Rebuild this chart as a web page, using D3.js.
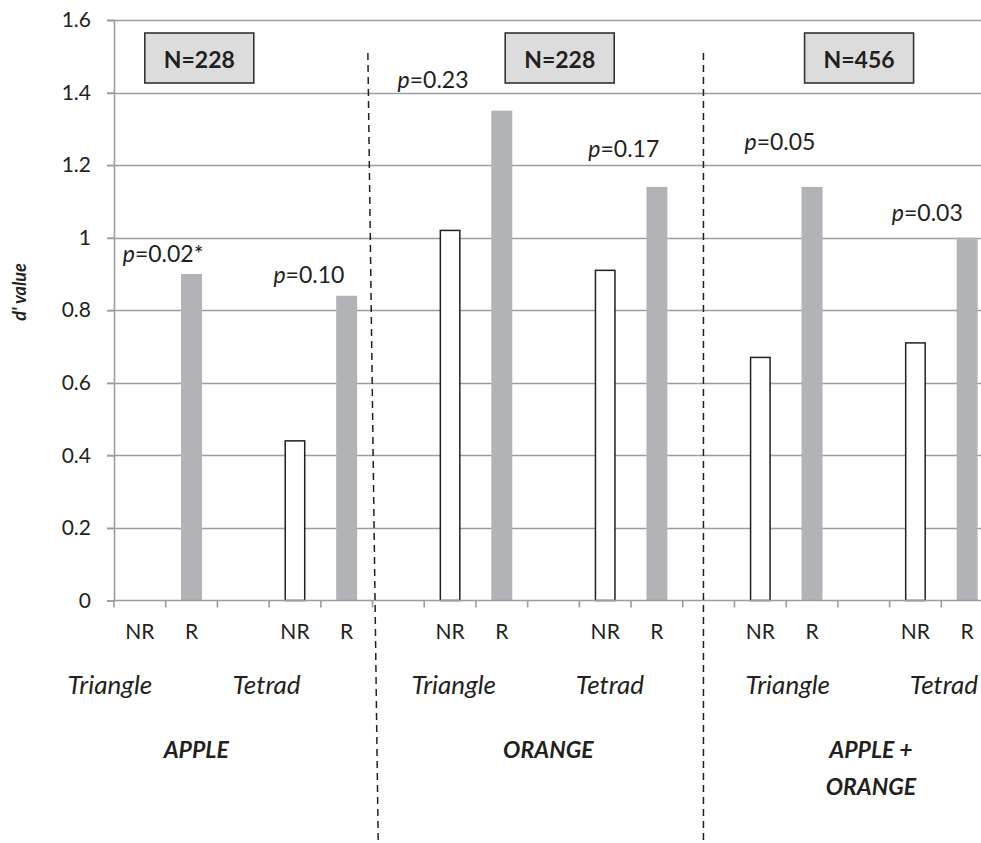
<!DOCTYPE html>
<html>
<head>
<meta charset="utf-8">
<script src="https://cdn.jsdelivr.net/npm/d3@7"></script>
<style>
  body { margin: 0; background: #fff; }
  svg { display: block; font-family: Lato, "Noto Sans", sans-serif; }
</style>
</head>
<body>
<svg></svg>
<script>
// category slots along the x axis (blank slots are the gaps between method groups)
const categories = ['NR', 'R', '', 'NR', 'R', '', 'NR', 'R', '', 'NR', 'R', '', 'NR', 'R', '', 'NR', 'R']
// d' value per slot, null = no bar
const dValues = [null, 0.90, null, 0.44, 0.84, null, 1.02, 1.35, null, 0.91, 1.14, null, 0.67, 1.14, null, 0.71, 1.00]
const methods = ['Triangle', 'Tetrad', 'Triangle', 'Tetrad', 'Triangle', 'Tetrad']
const products = [['APPLE'], ['ORANGE'], ['APPLE +', 'ORANGE']]
const sampleSizes = ['N=228', 'N=228', 'N=456']
const pValues = ['0.02*', '0.10', '0.23', '0.17', '0.05', '0.03']
const yTicks = [0, 0.2, 0.4, 0.6, 0.8, 1, 1.2, 1.4, 1.6]

// hand placed annotations, in slot units (x) and d' units (y) -- like the text boxes in the original
const pPos = [[0.95, 0.933], [3.77, 0.876], [6.17, 1.412], [9.86, 1.223], [12.88, 1.242], [15.73, 1.047]]
const methodPos = [-0.08, 2.95, 6.57, 9.59, 13.03, 16.05]
const productPos = [1.59, 8.40, 14.64]
const boxPos = [1.65, 8.62, 14.41]

const W = 981, H = 843
const mLeft = 114, mRight = 993, mTop = 20, mBottom = 600.5

const svg = d3.select('svg')
  .attr('width', W)
  .attr('height', H)

const x = d3.scaleBand()
  .domain(d3.range(categories.length))
  .range([mLeft, mRight])
  .paddingInner(0.594)
  .paddingOuter(0.297)

// slot units -> px (slot boundaries at integers)
const u = d3.scaleLinear()
  .domain([0, categories.length])
  .range([mLeft, mRight])

const y = d3.scaleLinear()
  .domain([0, 1.6])
  .range([mBottom, mTop])

const ink = '#231f20'
const gridCol = '#9d9d9d'

// gridlines (they include the little tick stub left of the axis)
svg.append('g')
  .selectAll('line')
  .data(yTicks.filter(d => d > 0))
  .enter()
  .append('line')
  .attr('x1', mLeft - 7)
  .attr('x2', mRight)
  .attr('y1', d => Math.round(y(d)) + 0.5)
  .attr('y2', d => Math.round(y(d)) + 0.5)
  .attr('stroke', gridCol)
  .attr('stroke-width', 1.6)

// y axis
const yAxis = svg.append('g')
  .attr('transform', `translate(${mLeft},0)`)
  .call(d3.axisLeft(y).tickValues(yTicks).tickSize(7).tickPadding(16).tickFormat(d => String(d)))
yAxis.select('.domain').attr('stroke', gridCol).attr('stroke-width', 1.6)
yAxis.selectAll('.tick line').attr('stroke', gridCol).attr('stroke-width', 1.6)
yAxis.selectAll('.tick text')
  .attr('font-size', 21)
  .attr('fill', ink)
  .attr('font-family', 'Lato')

// bars
const bars = categories.map((c, i) => ({ i, c, v: dValues[i] })).filter(d => d.v != null)

svg.append('g')
  .selectAll('rect')
  .data(bars)
  .enter()
  .append('rect')
  .attr('x', d => d.c === 'NR' ? x(d.i) + 0.75 : x(d.i))
  .attr('width', d => d.c === 'NR' ? x.bandwidth() - 1.5 : x.bandwidth())
  .attr('y', d => y(d.v))
  .attr('height', d => mBottom - y(d.v))
  .attr('fill', d => d.c === 'NR' ? '#fff' : '#b2b3b6')
  .attr('stroke', d => d.c === 'NR' ? ink : 'none')
  .attr('stroke-width', 1.5)

// x axis line + ticks at slot boundaries
const xAxis = svg.append('g')
xAxis.append('line')
  .attr('x1', mLeft).attr('x2', mRight)
  .attr('y1', mBottom).attr('y2', mBottom)
  .attr('stroke', gridCol).attr('stroke-width', 1.6)
xAxis.selectAll('line.tk')
  .data(d3.range(categories.length + 1))
  .enter()
  .append('line')
  .attr('class', 'tk')
  .attr('x1', d => u(d)).attr('x2', d => u(d))
  .attr('y1', mBottom).attr('y2', mBottom + 7)
  .attr('stroke', gridCol).attr('stroke-width', 1.6)

xAxis.selectAll('text')
  .data(categories.map((c, i) => ({ c, i })).filter(d => d.c))
  .enter()
  .append('text')
  .attr('x', d => x(d.i) + x.bandwidth() / 2)
  .attr('y', 639)
  .attr('text-anchor', 'middle')
  .attr('font-size', 21)
  .attr('fill', ink)
  .text(d => d.c)

// method labels
svg.append('g')
  .selectAll('text')
  .data(methods)
  .enter()
  .append('text')
  .attr('x', (d, i) => u(methodPos[i]))
  .attr('y', 694)
  .attr('text-anchor', 'middle')
  .attr('font-size', 26)
  .attr('font-style', 'italic')
  .attr('fill', ink)
  .text(d => d)

// product labels
const prod = svg.append('g')
  .selectAll('text')
  .data(products)
  .enter()
  .append('text')
  .attr('x', (d, i) => u(productPos[i]))
  .attr('y', 758)
  .attr('text-anchor', 'middle')
  .attr('font-size', 23)
  .attr('font-style', 'italic')
  .attr('font-weight', 'bold')
  .attr('fill', ink)
prod.selectAll('tspan')
  .data(d => d)
  .enter()
  .append('tspan')
  .attr('x', function () { return this.parentNode.getAttribute('x') })
  .attr('dy', (d, i) => i === 0 ? 0 : 37)
  .text(d => d)

// p value labels
const pl = svg.append('g')
  .selectAll('text')
  .data(pValues)
  .enter()
  .append('text')
  .attr('x', (d, i) => u(pPos[i][0]))
  .attr('y', (d, i) => y(pPos[i][1]))
  .attr('text-anchor', 'middle')
  .attr('font-size', 23)
  .attr('fill', ink)
pl.append('tspan').attr('font-style', 'italic').text('p')
pl.append('tspan').text(d => '=' + d)

// N boxes
const boxW = 109, boxH = 50
const box = svg.append('g')
  .selectAll('g')
  .data(sampleSizes)
  .enter()
  .append('g')
  .attr('transform', (d, i) => `translate(${u(boxPos[i])},0)`)
box.append('rect')
  .attr('x', -boxW / 2)
  .attr('y', 33)
  .attr('width', boxW)
  .attr('height', boxH)
  .attr('fill', '#dcdcdc')
  .attr('stroke', '#333')
  .attr('stroke-width', 1.6)
box.append('text')
  .attr('y', 68)
  .attr('text-anchor', 'middle')
  .attr('font-size', 23)
  .attr('font-weight', 'bold')
  .attr('fill', ink)
  .text(d => d)

// dashed separators between products
const seps = [[4.91, 5.11], [11.40, 11.40]]
svg.append('g')
  .selectAll('line')
  .data(seps)
  .enter()
  .append('line')
  .attr('x1', d => u(d[0]))
  .attr('x2', d => u(d[1]))
  .attr('y1', 53)
  .attr('y2', H)
  .attr('stroke', ink)
  .attr('stroke-width', 1.5)
  .attr('stroke-dasharray', '7,5')

// y axis title
svg.append('text')
  .attr('transform', 'translate(26,292) rotate(-90)')
  .attr('text-anchor', 'middle')
  .attr('font-size', 18)
  .attr('font-style', 'italic')
  .attr('font-weight', 'bold')
  .attr('fill', ink)
  .text("d' value")
</script>
</body>
</html>
